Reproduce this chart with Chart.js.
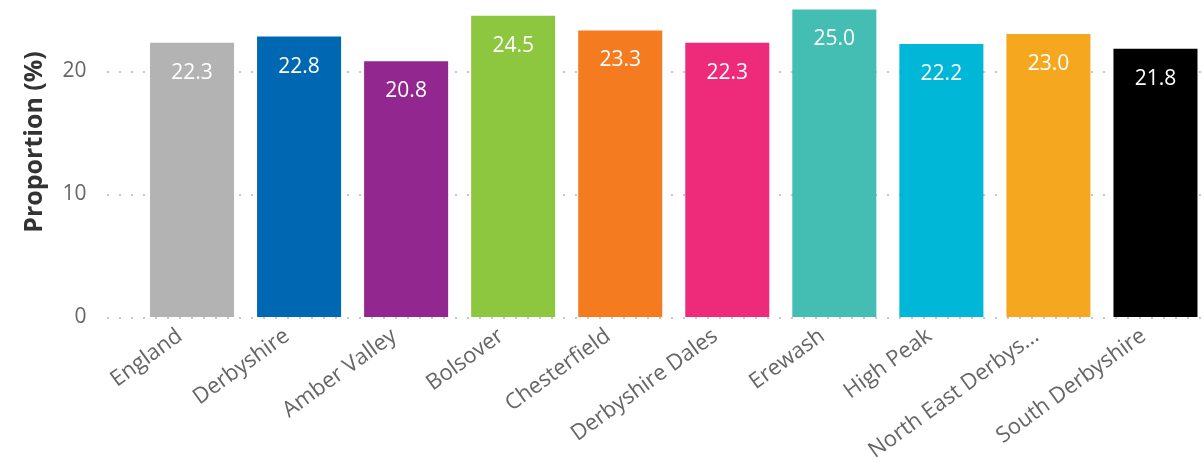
<!DOCTYPE html>
<html>
<head>
<meta charset="utf-8">
<script src="https://cdn.jsdelivr.net/npm/chart.js@4"></script>
<style>
  html, body { margin: 0; padding: 0; overflow: hidden; background: #fff; }
  #wrap { width: 1209px; height: 461px; }
</style>
</head>
<body>
<div id="wrap"><canvas id="chart"></canvas></div>
<script>
const areas = ["England", "Derbyshire", "Amber Valley", "Bolsover", "Chesterfield",
  "Derbyshire Dales", "Erewash", "High Peak", "North East Derbys...", "South Derbyshire"];
const proportion = [22.3, 22.8, 20.8, 24.5, 23.3, 22.3, 25.0, 22.2, 23.0, 21.8];
const barColours = ["#b3b3b3", "#0068b3", "#92278f", "#8dc63f", "#f47b20",
  "#ee2a7b", "#44bdb3", "#00b7d7", "#f5a81f", "#000000"];
const yTicks = [0, 10, 20];

const FONT = "'Open Sans', 'Noto Sans', sans-serif";

// lignes pointillées + titre de l'axe, dessinés à la main
const decor = {
  id: "decor",
  beforeDatasetsDraw(chart) {
    const { ctx, scales: { y } } = chart;
    ctx.save();
    ctx.strokeStyle = "#c8c8c8";
    ctx.lineWidth = 2;
    ctx.setLineDash([2, 10]);
    yTicks.forEach((v) => {
      const py = Math.round(y.getPixelForValue(v)) + 1;
      ctx.beginPath();
      ctx.moveTo(107, py);
      ctx.lineTo(1201, py);
      ctx.stroke();
    });
    ctx.restore();
  },
  afterDraw(chart) {
    const { ctx } = chart;
    ctx.save();
    ctx.translate(35, 142);
    ctx.rotate(-Math.PI / 2);
    ctx.fillStyle = "#333";
    ctx.font = "bold 25px " + FONT;
    ctx.textAlign = "center";
    ctx.textBaseline = "middle";
    ctx.fillText("Proportion (%)", 0, 0);
    ctx.restore();

    // valeurs dans les barres
    const meta = chart.getDatasetMeta(0);
    ctx.save();
    ctx.fillStyle = "#fff";
    ctx.font = "21px " + FONT;
    ctx.textAlign = "center";
    ctx.textBaseline = "middle";
    meta.data.forEach((bar, i) => {
      ctx.fillText(proportion[i].toFixed(1), bar.x, bar.y + 30);
    });
    ctx.restore();
  },
};

new Chart(document.getElementById("chart"), {
  type: "bar",
  data: {
    labels: areas,
    datasets: [{
      data: proportion,
      backgroundColor: barColours,
      categoryPercentage: 1,
      barPercentage: 84 / 107,
    }],
  },
  options: {
    responsive: true,
    maintainAspectRatio: false,
    animation: false,
    layout: { padding: 0 },
    plugins: { legend: { display: false }, tooltip: { enabled: false } },
    scales: {
      x: {
        grid: { display: false, drawTicks: false },
        border: { display: false },
        ticks: {
          color: "#666",
          font: { family: FONT, size: 22 },
          minRotation: 36,
          maxRotation: 36,
          autoSkip: false,
          padding: 6,
          labelOffset: -12,
        },
        afterFit(scale) { scale.height = 144; },
      },
      y: {
        min: 0,
        max: 317 / 12.3,
        grid: { display: false, drawTicks: false },
        border: { display: false },
        ticks: {
          color: "#666",
          font: { family: FONT, size: 21 },
          padding: 52,
        },
        afterBuildTicks(scale) {
          scale.ticks = yTicks.map((v) => ({ value: v }));
        },
        afterFit(scale) {
          scale.width = 138.5;
          scale.paddingTop = 0;
          scale.paddingBottom = 0;
        },
      },
    },
  },
  plugins: [decor],
});
</script>
</body>
</html>
